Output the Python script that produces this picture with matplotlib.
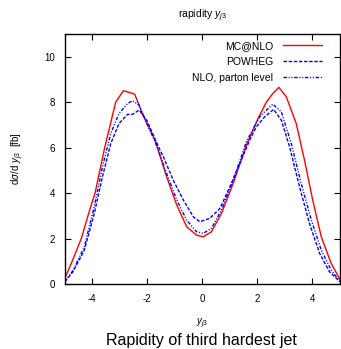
import matplotlib
matplotlib.use("Agg")
import matplotlib.pyplot as plt

plt.rcParams["font.family"] = ["Liberation Sans", "DejaVu Sans"]
plt.rcParams["mathtext.fontset"] = "custom"
plt.rcParams["mathtext.it"] = "Liberation Sans:italic"
plt.rcParams["mathtext.rm"] = "Liberation Sans"
plt.rcParams["axes.unicode_minus"] = False

# MC@NLO
mc_x = [-5.0, -4.75, -4.4, -4.11, -3.9, -3.55, -3.15, -2.87, -2.46, -2.15, -1.72,
        -1.3, -0.93, -0.57, -0.21, 0.03, 0.33, 0.69, 1.12, 1.6, 2.02, 2.33,
        2.56, 2.78, 3.05, 3.41, 3.71, 4.01, 4.32, 4.68, 5.0]
mc_y = [0.25, 0.95, 2.0, 3.2, 4.0, 6.0, 8.0, 8.5, 8.35, 7.4, 6.33,
        4.72, 3.47, 2.52, 2.15, 2.08, 2.3, 3.1, 4.43, 6.11, 7.28, 8.01,
        8.38, 8.65, 8.23, 7.06, 5.45, 3.69, 2.08, 0.91, 0.2]

# POWHEG
pw_x = [-5.0, -4.7, -4.29, -3.93, -3.63, -3.33, -3.03, -2.72, -2.54, -2.3, -2.02,
        -1.54, -1.42, -1.06, -0.69, -0.33, -0.09, 0.27, 0.64, 1.0, 1.36, 1.72,
        1.96, 2.26, 2.59, 2.87, 3.17, 3.53, 3.89, 4.26, 4.62, 5.0]
pw_y = [0.1, 0.55, 1.49, 3.1, 4.72, 6.18, 7.06, 7.46, 7.46, 7.65, 7.2,
        5.89, 5.6, 4.57, 3.69, 2.96, 2.74, 2.89, 3.33, 4.28, 5.3, 6.33,
        6.91, 7.35, 7.68, 7.2, 6.03, 4.28, 2.67, 1.35, 0.54, 0.1]

# NLO, parton level
nlo_x = [-5.0, -4.7, -4.29, -3.93, -3.63, -3.33, -3.03, -2.72, -2.54, -2.3, -2.02,
         -1.72, -1.3, -0.93, -0.57, -0.21, 0.03, 0.33, 0.69, 1.12, 1.6, 2.08,
         2.26, 2.56, 2.87, 3.23, 3.59, 3.96, 4.32, 4.68, 5.0]
nlo_y = [0.1, 0.6, 1.64, 3.4, 5.16, 6.62, 7.5, 7.94, 8.06, 7.87, 7.06,
         6.26, 4.87, 3.69, 2.81, 2.3, 2.23, 2.45, 3.25, 4.57, 6.26, 7.35,
         7.57, 7.91, 7.57, 6.18, 4.43, 2.81, 1.49, 0.62, 0.1]

fig = plt.figure(figsize=(3.41, 3.49), dpi=100)
ax = fig.add_axes([0.19, 0.186, 0.807, 0.717])

ax.plot(mc_x, mc_y, color="#ff0000", lw=1.0, label="MC@NLO")
ax.plot(pw_x, pw_y, color="#0000ff", lw=1.0, linestyle=(0, (2.5, 1.2)), label="POWHEG")
ax.plot(nlo_x, nlo_y, color="#0000ff", lw=1.0,
        linestyle=(0, (2.5, 1.2, 0.8, 1.2, 0.8, 1.2)), label="NLO, parton level")

ax.set_xlim(-5, 5)
ax.set_ylim(0, 11)
ax.set_xticks([-4, -2, 0, 2, 4])
ax.set_yticks([0, 2, 4, 6, 8, 10])
ax.tick_params(direction="in", top=True, right=True, length=4, width=0.8,
               labelsize=7, pad=7)
for s in ax.spines.values():
    s.set_linewidth(1.0)

ax.set_title(r"rapidity $y_{j3}$", fontsize=7.5, pad=11.5)
ax.set_xlabel(r"$y_{j3}$", fontsize=7, labelpad=9)
ax.set_ylabel(r"d$\sigma$/d $y_{j3}$  [fb]", fontsize=7, labelpad=13)

ax.legend(loc="upper right", bbox_to_anchor=(0.96, 1.0), frameon=False,
          markerfirst=False, fontsize=7.5, handlelength=3.7, handletextpad=0.96,
          labelspacing=0.55, borderaxespad=0.3)

fig.text(0.591, 0.011, "Rapidity of third hardest jet", ha="center", fontsize=11.5)

fig.savefig("out.png", dpi=100)
